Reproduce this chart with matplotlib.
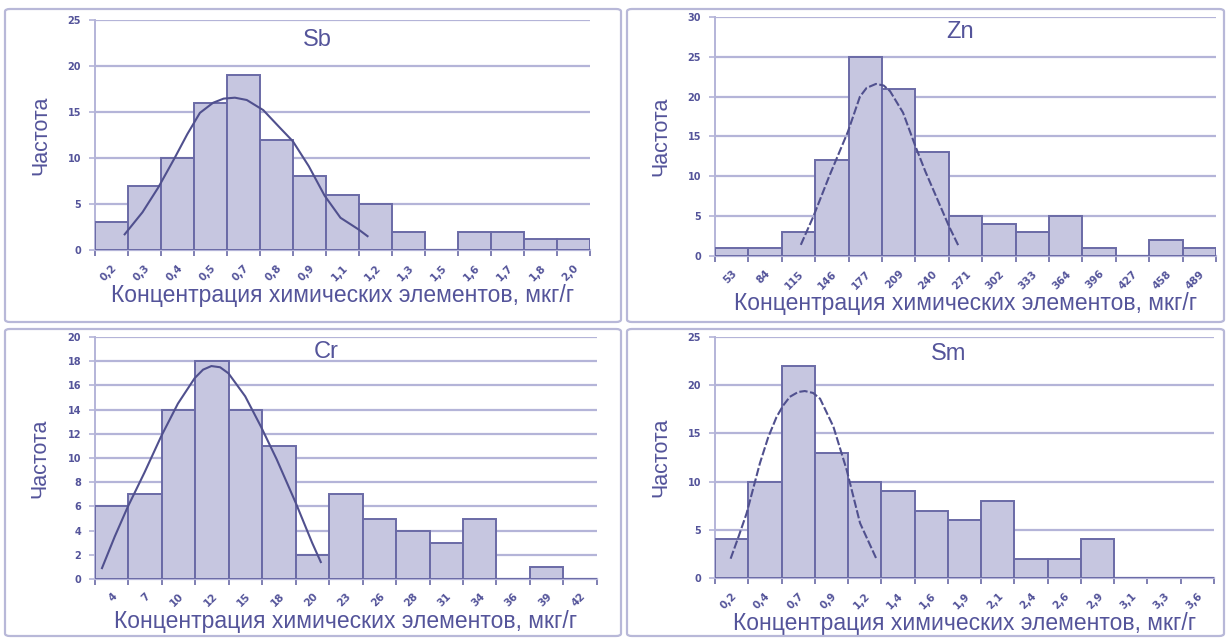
import matplotlib.pyplot as plt
from matplotlib.patches import FancyBboxPatch

plt.rcParams['font.family'] = ['Liberation Sans Narrow', 'Liberation Sans', 'DejaVu Sans']

# ==================== данные ====================
sb_labels = ['0,2', '0,3', '0,4', '0,5', '0,7', '0,8', '0,9', '1,1', '1,2', '1,3', '1,5', '1,6', '1,7', '1,8', '2,0']
sb_freq = [3, 7, 10, 16, 19, 12, 8, 6, 5, 2, 0, 2, 2, 1.2, 1.2]
sb_curve_x = [0.40, 0.94, 1.42, 1.90, 2.30, 2.68, 3.08, 3.40, 3.74, 4.10, 4.60, 5.10, 5.50, 5.98, 6.46, 6.94, 7.48, 7.76]
sb_curve_y = [1.7, 4.1, 6.8, 9.9, 12.6, 14.9, 16.0, 16.45, 16.55, 16.3, 15.2, 13.3, 11.8, 9.1, 5.9, 3.5, 2.25, 1.5]

zn_labels = ['53', '84', '115', '146', '177', '209', '240', '271', '302', '333', '364', '396', '427', '458', '489']
zn_freq = [1, 1, 3, 12, 25, 21, 13, 5, 4, 3, 5, 1, 0, 2, 1]
zn_curve_x = [2.07, 2.45, 2.92, 3.20, 3.48, 3.84, 4.04, 4.32, 4.55, 4.74, 5.13, 5.49, 5.80, 6.14, 6.51, 6.80]
zn_curve_y = [1.4, 5.0, 10.0, 12.8, 15.6, 20.0, 21.1, 21.6, 21.4, 20.7, 18.0, 13.9, 10.6, 7.3, 3.7, 1.2]

cr_labels = ['4', '7', '10', '12', '15', '18', '20', '23', '26', '28', '31', '34', '36', '39', '42']
cr_freq = [6, 7, 14, 18, 14, 11, 2, 7, 5, 4, 3, 5, 0, 1, 0]
cr_curve_x = [-0.29, 0.09, 0.47, 0.98, 1.48, 1.98, 2.48, 2.73, 2.98, 3.24, 3.49, 3.99, 4.46, 4.93, 5.50, 5.99, 6.25]
cr_curve_y = [0.9, 3.5, 5.9, 8.8, 11.8, 14.5, 16.6, 17.3, 17.6, 17.5, 17.0, 15.1, 12.6, 9.9, 6.3, 3.0, 1.4]

sm_labels = ['0,2', '0,4', '0,7', '0,9', '1,2', '1,4', '1,6', '1,9', '2,1', '2,4', '2,6', '2,9', '3,1', '3,3', '3,6']
sm_freq = [4, 10, 22, 13, 10, 9, 7, 6, 8, 2, 2, 4, 0, 0, 0]
sm_curve_x = [-0.03, 0.20, 0.45, 0.85, 1.10, 1.35, 1.55, 1.75, 2.00, 2.20, 2.45, 2.66, 3.06, 3.46, 3.86, 4.35]
sm_curve_y = [2.0, 4.2, 6.7, 11.9, 14.6, 16.7, 17.9, 18.8, 19.3, 19.4, 19.2, 18.6, 15.7, 11.2, 5.7, 2.0]

TEXT = '#54549a'
BAR_FACE = '#c6c6e0'
BAR_EDGE = '#6a6aa6'
GRID = '#b4b4d8'
LINE = '#50508e'
XLABEL = 'Концентрация химических элементов, мкг/г'

fig = plt.figure(figsize=(12.27, 6.39), dpi=100)

# рамки панелей (в пикселях исходника)
W, H = 1227, 639
for x0, y0, x1, y1 in [(5, 9, 621, 322), (627, 9, 1224, 322),
                       (5, 329, 621, 636), (627, 329, 1224, 636)]:
    box = FancyBboxPatch((x0 / W, 1 - y1 / H), (x1 - x0) / W, (y1 - y0) / H,
                         boxstyle='round,pad=0,rounding_size=0.004',
                         transform=fig.transFigure, fill=False,
                         edgecolor='#b8b8d8', linewidth=1.6)
    fig.patches.append(box)


def draw(rect, labels, freq, cx, cy, ymax, ystep, title, title_pos, ls='-'):
    ax = fig.add_axes(rect)
    n = len(labels)
    ax.bar(range(n), freq, width=1.0, color=BAR_FACE, edgecolor=BAR_EDGE,
           linewidth=1.4, zorder=3)
    ax.plot(cx, cy, color=LINE, linewidth=1.5, linestyle=ls, zorder=4)
    ax.set_xlim(-0.5, n - 0.5)
    ax.set_ylim(0, ymax)
    ax.set_yticks(range(0, ymax + 1, ystep))
    ax.yaxis.grid(True, color=GRID, linewidth=1.6, zorder=0)
    ax.set_axisbelow(True)
    ax.set_xticks(range(n))
    ax.set_xticklabels(labels, rotation=45, ha='right', va='top',
                       rotation_mode='anchor', fontsize=7.5, fontweight='bold',
                       color=TEXT, family='DejaVu Sans')
    ax.set_xticks([i - 0.5 for i in range(n + 1)], minor=True)
    ax.tick_params(axis='x', which='major', length=0, pad=9)
    ax.tick_params(axis='x', which='minor', length=4, color=BAR_EDGE, width=1.2)
    ax.tick_params(axis='y', length=4, color=GRID, width=1.2, labelsize=7, labelcolor=TEXT, pad=6)
    for lab in ax.get_yticklabels():
        lab.set_fontweight('bold')
        lab.set_family('DejaVu Sans')
    for side in ['top', 'right']:
        ax.spines[side].set_visible(False)
    ax.spines['left'].set_color(GRID)
    ax.spines['left'].set_linewidth(1.4)
    ax.spines['bottom'].set_color(GRID)
    ax.spines['bottom'].set_linewidth(1.6)
    ax.text(title_pos[0], title_pos[1], title, transform=ax.transAxes,
            ha='center', va='center', fontsize=17, color=TEXT)
    ax.set_xlabel(XLABEL, fontsize=16.5, color=TEXT, labelpad=1)
    ax.set_ylabel('Частота', fontsize=15.5, color=TEXT, labelpad=12)
    return ax


draw([0.0774, 0.6088, 0.4034, 0.360], sb_labels, sb_freq, sb_curve_x, sb_curve_y,
     25, 5, 'Sb', (0.45, 0.913))
draw([0.5827, 0.5994, 0.4083, 0.374], zn_labels, zn_freq, zn_curve_x, zn_curve_y,
     30, 5, 'Zn', (0.49, 0.937), ls=(0, (4, 1.2)))
draw([0.0774, 0.0939, 0.409, 0.3787], cr_labels, cr_freq, cr_curve_x, cr_curve_y,
     20, 2, 'Cr', (0.46, 0.938))
draw([0.5827, 0.0955, 0.4067, 0.377], sm_labels, sm_freq, sm_curve_x, sm_curve_y,
     25, 5, 'Sm', (0.469, 0.929), ls=(0, (4, 1.2)))

plt.savefig('out.png', dpi=100)
